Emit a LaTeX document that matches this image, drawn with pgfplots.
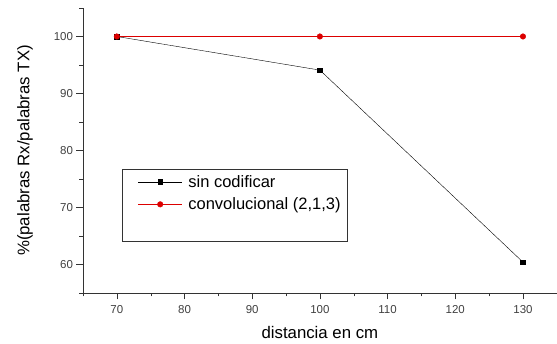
\documentclass[border=0pt]{standalone}
\usepackage{pgfplots}
\pgfplotsset{compat=1.18}
\usepackage{fontspec}
\setmainfont{Liberation Sans}
\definecolor{redc}{RGB}{220,0,0}
\begin{document}
\begin{tikzpicture}
\begin{axis}[
  scale only axis,
  width=474pt, height=285pt,
  xmin=65, xmax=135, ymin=55, ymax=105,
  axis x line*=bottom, axis y line*=left,
  axis line style={-, black!80},
  xtick={70,80,...,130}, ytick={60,70,...,100},
  minor xtick={65,75,...,135}, minor ytick={55,65,...,105},
  tick align=outside,
  major tick length=6.5pt, minor tick length=3.5pt,
  tick style={black!80},
  ticklabel style={font=\fontsize{11.5}{13}\selectfont, text=black!75},
  xticklabel style={yshift=-3pt},
  /pgf/number format/assume math mode=true,
  xlabel={distancia en cm},
  ylabel={\%(palabras Rx/palabras TX)},
  label style={font=\fontsize{16.8}{19}\selectfont},
  xlabel style={yshift=-5pt},
  ylabel style={yshift=14pt},
  legend style={at={(axis cs:70.74,76.75)}, anchor=north west,
    draw=black!80, font=\fontsize{16.5}{19}\selectfont,
    inner xsep=5pt, inner ysep=4pt, row sep=5pt,
    minimum width=0pt},
  legend cell align=left,
  legend image code/.code={
    \path (-11pt,0pt) (48pt,0pt);
    \draw[mark repeat=2,mark phase=2] plot coordinates {(0pt,0pt) (22pt,0pt) (44pt,0pt)};
  },
  clip=false,
]
\addplot[black, thin, mark=square*, mark size=2.3pt] coordinates {(70,100) (100,94.1) (130,60.4)};
\addlegendentry{sin codificar}
\addplot[redc, thin, mark=*, mark size=2.8pt] coordinates {(70,100) (100,100) (130,100)};
\addlegendentry{convolucional (2,1,3)}
\addlegendimage{empty legend}
\addlegendentry{\strut}
\coordinate (sw) at (rel axis cs:0,0);
\coordinate (ne) at (rel axis cs:1,1);
\end{axis}
\path (sw) ++(-83pt,-51pt) coordinate (a);
\path (ne) ++(0pt,8pt) coordinate (b);
\useasboundingbox (a) rectangle (b);
\end{tikzpicture}
\end{document}
